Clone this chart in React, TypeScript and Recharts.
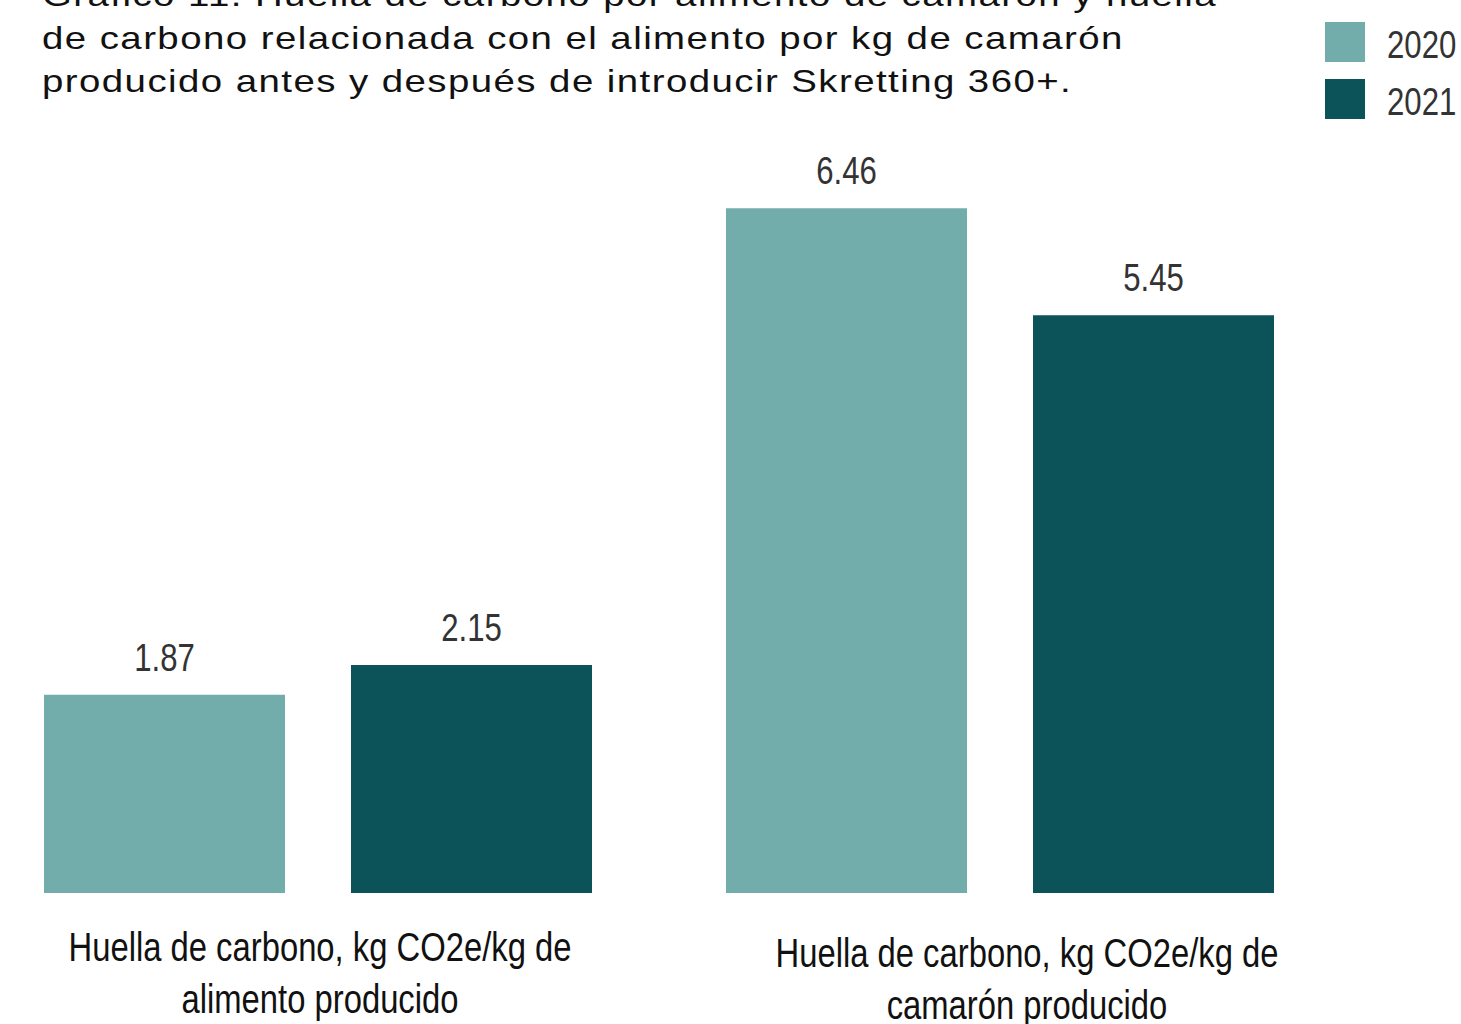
import React from "react";
import { BarChart, Bar, XAxis, YAxis, LabelList } from "recharts";

const titleLines = [
  "Gráfico 11. Huella de carbono por alimento de camarón y huella",
  "de carbono relacionada con el alimento por kg de camarón",
  "producido antes y después de introducir Skretting 360+.",
];

const categories = [
  "Huella de carbono, kg CO2e/kg de alimento producido",
  "Huella de carbono, kg CO2e/kg de camarón producido",
];
const categoryLines = [
  ["Huella de carbono, kg CO2e/kg de", "alimento producido"],
  ["Huella de carbono, kg CO2e/kg de", "camarón producido"],
];
const values2020 = [1.87, 6.46];
const values2021 = [2.15, 5.45];
const seriesNames = ["2020", "2021"];

const data = categories.map((c, i) => ({
  category: c,
  v2020: values2020[i],
  v2021: values2021[i],
}));

const COLOR_2020 = "#72adab";
const COLOR_2021 = "#0b5359";
const SANS = "'Liberation Sans', Arial, sans-serif";
const NARROW_SCALE = 0.82;

const CategoryTick = (props: any) => {
  const { x, y, index } = props;
  const lines = categoryLines[index] || [];
  const dx = index === 1 ? 27 : 2;
  const dy = index === 1 ? 6 : 0;
  return (
    <g>
      {lines.map((l: string, i: number) => (
        <text
          key={i}
          transform={`translate(${x + dx},${y + dy + 68 + i * 52}) scale(${NARROW_SCALE},1)`}
          textAnchor="middle"
          fontFamily={SANS}
          fontSize={40}
          fill="#111"
        >
          {l}
        </text>
      ))}
    </g>
  );
};

const ValueLabel = (props: any) => {
  const { x, y, width, value } = props;
  return (
    <text
      transform={`translate(${x + width / 2},${y - 24}) scale(${NARROW_SCALE},1)`}
      textAnchor="middle"
      fontFamily={SANS}
      fontSize={38}
      fill="#333"
    >
      {Number(value).toFixed(2)}
    </text>
  );
};

const LegendBox = () => {
  const colors = [COLOR_2020, COLOR_2021];
  return (
    <div
      style={{
        position: "absolute",
        left: 1325,
        top: 22,
        display: "flex",
        flexDirection: "column",
        gap: 17,
      }}
    >
      {seriesNames.map((n, i) => (
        <div key={n} style={{ display: "flex", alignItems: "center", height: 40 }}>
          <div style={{ width: 40, height: 40, background: colors[i] }} />
          <span
            style={{
              marginLeft: 22,
              fontFamily: SANS,
              fontSize: 38,
              color: "#333",
              lineHeight: "40px",
              display: "inline-block",
              transform: `scaleX(${NARROW_SCALE})`,
              transformOrigin: "left center",
              position: "relative",
              top: 3,
            }}
          >
            {n}
          </span>
        </div>
      ))}
    </div>
  );
};

export default function App() {
  return (
    <div
      style={{
        position: "absolute",
        left: 0,
        top: 0,
        width: 1461,
        height: 1024,
        overflow: "hidden",
        background: "#fff",
      }}
    >
      <div
        style={{
          position: "absolute",
          left: 42,
          top: -26,
          fontFamily: SANS,
          fontSize: 32,
          lineHeight: "43px",
          letterSpacing: 1.2,
          color: "#111",
          whiteSpace: "nowrap",
          transform: "scaleX(1.2)",
          transformOrigin: "left top",
        }}
      >
        {titleLines.map((l, i) => (
          <div key={i}>{l}</div>
        ))}
      </div>
      <LegendBox />
      <div style={{ position: "absolute", left: -23, top: 0 }}>
        <BarChart
          width={1484}
          height={1024}
          data={data}
          margin={{ top: 151, right: 120, bottom: 0, left: 0 }}
          barGap={66}
          barCategoryGap={67}
        >
          <XAxis
            dataKey="category"
            height={131}
            axisLine={false}
            tickLine={false}
            tickSize={0}
            tickMargin={0}
            interval={0}
            tick={<CategoryTick />}
          />
          <YAxis hide domain={[0, 7]} />
          <Bar dataKey="v2020" name="2020" fill={COLOR_2020} barSize={241} isAnimationActive={false}>
            <LabelList dataKey="v2020" content={<ValueLabel />} />
          </Bar>
          <Bar dataKey="v2021" name="2021" fill={COLOR_2021} barSize={241} isAnimationActive={false}>
            <LabelList dataKey="v2021" content={<ValueLabel />} />
          </Bar>
        </BarChart>
      </div>
    </div>
  );
}
